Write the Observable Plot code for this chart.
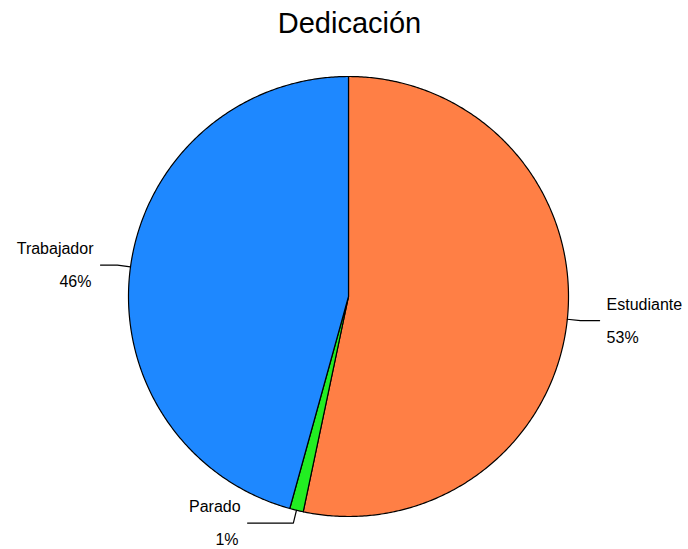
<!DOCTYPE html>
<html>
<head>
<meta charset="utf-8">
<script src="https://cdn.jsdelivr.net/npm/d3@7"></script>
<script src="https://cdn.jsdelivr.net/npm/@observablehq/plot@0.6"></script>
<style>
  html, body { margin: 0; padding: 0; background: #ffffff; }
  #chart svg { display: block; }
</style>
</head>
<body>
<div id="chart"></div>
<script>
// ---- data ----
const title = "Dedicación";
const categories = ["Estudiante", "Parado", "Trabajador"];
const values = [53.3, 1.0, 45.7];
const pctLabels = ["53%", "1%", "46%"];
const colors = ["#FF7F45", "#22EE22", "#1E88FF"];

// ---- layout (pixels) ----
const W = 688, H = 549;
const cx = 348, cy = 296, R = 220;
const leaderLen = {Estudiante: 0.087, Parado: 0.208, Trabajador: 0.077};

const arcs = d3.pie().sort(null).startAngle(0).endAngle(2 * Math.PI)(values);

const polyRows = [];
const leaderRows = [];
const labelRows = [];
arcs.forEach((a, i) => {
  const name = categories[i];
  polyRows.push({name, x: 0, y: 0});
  const n = Math.max(2, Math.ceil((a.endAngle - a.startAngle) / (Math.PI / 360)));
  for (let k = 0; k <= n; k++) {
    const t = a.startAngle + (a.endAngle - a.startAngle) * k / n;
    polyRows.push({name, x: Math.sin(t), y: Math.cos(t)});
  }
  polyRows.push({name, x: 0, y: 0});

  const m = (a.startAngle + a.endAngle) / 2;
  const sx = Math.sin(m), sy = Math.cos(m);
  const side = sx >= 0 ? 1 : -1;
  const ex = 1.06 * sx, ey = 1.06 * sy;
  const lx = ex + side * leaderLen[name];
  leaderRows.push({name, x: sx, y: sy}, {name, x: ex, y: ey}, {name, x: lx, y: ey});
  labelRows.push({name, pct: pctLabels[i], x: lx, y: ey, side});
});

const xDomain = [-cx / R, (W - cx) / R];
const yDomain = [(cy - H) / R, cy / R];

const font = "'Liberation Sans', Arial, Helvetica, sans-serif";

const chart = Plot.plot({
  width: W,
  height: H,
  margin: 0,
  style: {fontFamily: font, background: "#ffffff", color: "black"},
  x: {domain: xDomain, range: [0, W], axis: null},
  y: {domain: yDomain, range: [H, 0], axis: null},
  color: {domain: categories, range: colors},
  marks: [
    Plot.line(polyRows, {x: "x", y: "y", z: "name", fill: "name", stroke: "black", strokeWidth: 1.2, strokeLinejoin: "round"}),
    Plot.line(leaderRows, {x: "x", y: "y", z: "name", stroke: "black", strokeWidth: 1.2}),
    Plot.text(labelRows.filter(d => d.side > 0), {x: "x", y: "y", text: "name", textAnchor: "start", dx: 7, dy: -16, fontSize: 16, fill: "black"}),
    Plot.text(labelRows.filter(d => d.side > 0), {x: "x", y: "y", text: "pct", textAnchor: "start", dx: 7, dy: 17, fontSize: 16, fill: "black"}),
    Plot.text(labelRows.filter(d => d.side < 0), {x: "x", y: "y", text: "name", textAnchor: "end", dx: -7, dy: -16, fontSize: 16, fill: "black"}),
    Plot.text(labelRows.filter(d => d.side < 0), {x: "x", y: "y", text: "pct", textAnchor: "end", dx: -9, dy: 17, fontSize: 16, fill: "black"}),
    Plot.text([title], {frameAnchor: "top", lineAnchor: "middle", dy: 23, dx: 5, fontSize: 29, fill: "black"})
  ]
});
document.getElementById("chart").appendChild(chart);
</script>
</body>
</html>
